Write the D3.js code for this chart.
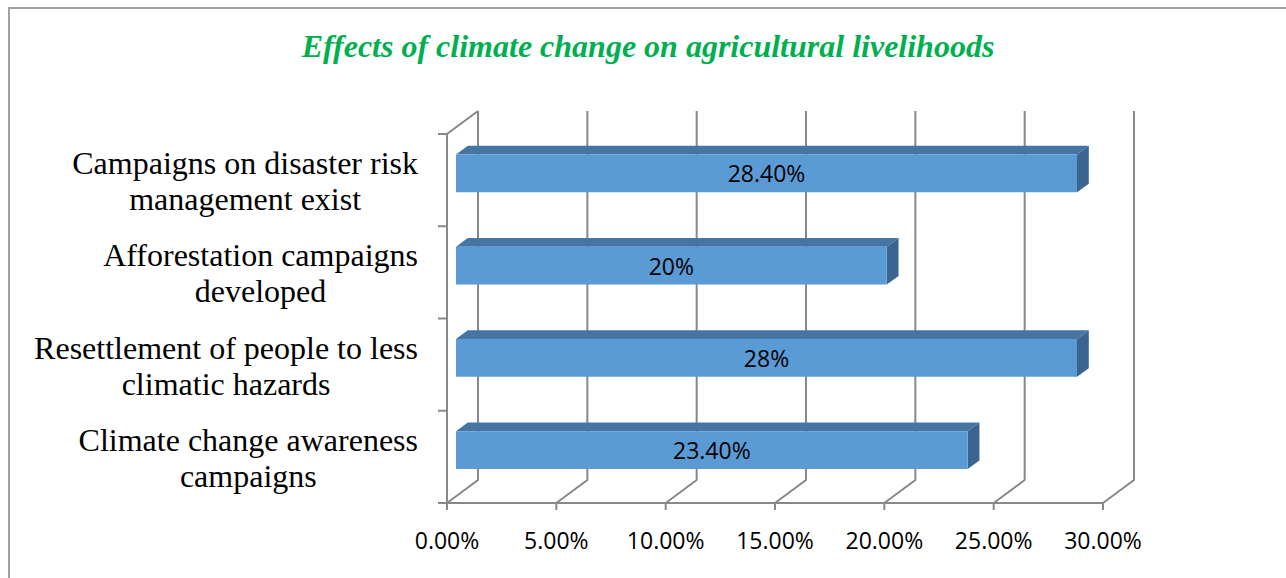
<!DOCTYPE html>
<html>
<head>
<meta charset="utf-8">
<script src="https://cdn.jsdelivr.net/npm/d3@7"></script>
<style>
	body { margin: 0; background: #fff; }
	svg { display: block; }
</style>
</head>
<body>
<script>
// chart data, top row first
var categories = [
	["Campaigns on disaster risk", "management exist"],
	["Afforestation campaigns", "developed"],
	["Resettlement of people to less", "climatic hazards"],
	["Climate change awareness", "campaigns"]
];
var values = [28.4, 19.7, 28.4, 23.4];
var valueLabels = ["28.40%", "20%", "28%", "23.40%"];
var ticks = [0, 5, 10, 15, 20, 25, 30];
var title = "Effects of climate change on agricultural livelihoods";

var width = 1286;
var height = 578;
// 3d depth of the plot box
var DX = 31;
var DY = -23;
var barFront = 0.29;
var barBack = 0.67;

var svg = d3.select("body")
			.append("svg")
			.attr("width", width)
			.attr("height", height);

// outer border (runs off the right/bottom of the picture)
svg.append("rect")
	.attr("x", 9)
	.attr("y", 8)
	.attr("width", width + 20)
	.attr("height", height + 20)
	.attr("fill", "none")
	.attr("stroke", "#a0a0a0")
	.attr("stroke-width", 2);

svg.append("text")
	.attr("x", 648)
	.attr("y", 57)
	.attr("text-anchor", "middle")
	.attr("font-family", "'Liberation Serif', 'Times New Roman', serif")
	.attr("font-size", "32px")
	.attr("font-weight", "bold")
	.attr("font-style", "italic")
	.attr("fill", "#00b050")
	.text(title);

var x = d3.scaleLinear()
		.domain([0, 30])
		.range([447, 1103]);

var y = d3.scaleBand()
		.domain(d3.range(categories.length))
		.range([134, 503])
		.paddingInner(0.59)
		.paddingOuter(0.295);

var yTop = 134, yBottom = 503;

function pt(xv, yv, d){
	return [xv + d * DX, yv + d * DY];
}
function poly(points){
	return points.map(function(p){ return p[0] + "," + p[1]; }).join(" ");
}

var grid = svg.append("g")
			.attr("fill", "none")
			.attr("stroke", "#888888")
			.attr("stroke-width", 2);

// back wall verticals + floor diagonals
ticks.forEach(function(t){
	var fx = x(t);
	var b0 = pt(fx, yBottom, 1);
	var b1 = pt(fx, yTop, 1);
	grid.append("polyline")
		.attr("points", poly([[fx, yBottom], b0, b1]));
	grid.append("line")
		.attr("x1", fx).attr("x2", fx)
		.attr("y1", yBottom).attr("y2", yBottom + 7);
});

// front floor edge
grid.append("line")
	.attr("x1", x(0)).attr("x2", x(30))
	.attr("y1", yBottom).attr("y2", yBottom);

// left side wall
var lt = pt(x(0), yTop, 1);
grid.append("polyline")
	.attr("points", poly([[x(0), yBottom], [x(0), yTop], lt]));

// category ticks on left axis
var bounds = d3.range(categories.length + 1).map(function(i){ return yTop + i * (yBottom - yTop) / categories.length; });
bounds.forEach(function(b){
	grid.append("line")
		.attr("x1", x(0) - 9).attr("x2", x(0))
		.attr("y1", b).attr("y2", b);
});

// bars
var bars = svg.selectAll("g.bar")
			.data(values)
			.enter()
			.append("g")
			.attr("class", "bar");

bars.append("polygon")
	.attr("fill", "#4675a4")
	.attr("points", function(d, i){
		var y0 = y(i);
		return poly([pt(x(0), y0, barFront), pt(x(d), y0, barFront), pt(x(d), y0, barBack), pt(x(0), y0, barBack)]);
	});

bars.append("polygon")
	.attr("fill", "#3b6590")
	.attr("points", function(d, i){
		var y0 = y(i), y1 = y(i) + y.bandwidth();
		return poly([pt(x(d), y0, barFront), pt(x(d), y0, barBack), pt(x(d), y1, barBack), pt(x(d), y1, barFront)]);
	});

bars.append("polygon")
	.attr("fill", "#5b9bd5")
	.attr("points", function(d, i){
		var y0 = y(i), y1 = y(i) + y.bandwidth();
		return poly([pt(x(0), y0, barFront), pt(x(d), y0, barFront), pt(x(d), y1, barFront), pt(x(0), y1, barFront)]);
	});

bars.append("text")
	.attr("x", function(d){ return (x(0) + x(d)) / 2 + barFront * DX; })
	.attr("y", function(d, i){ return y(i) + y.bandwidth() / 2 + barFront * DY + 9; })
	.attr("text-anchor", "middle")
	.attr("font-family", "'Open Sans', sans-serif")
	.attr("font-size", "23px")
	.attr("fill", "#000")
	.text(function(d, i){ return valueLabels[i]; });

// x tick labels
svg.selectAll("text.tick")
	.data(ticks)
	.enter()
	.append("text")
	.attr("class", "tick")
	.attr("x", function(d){ return x(d); })
	.attr("y", 549)
	.attr("text-anchor", "middle")
	.attr("font-family", "'Open Sans', sans-serif")
	.attr("font-size", "23px")
	.attr("fill", "#000")
	.text(function(d){ return d.toFixed(2) + "%"; });

// category labels, wrapped lines centred as a block right-aligned to the axis
categories.forEach(function(lines, i){
	var cy = yTop + (i + 0.5) * (yBottom - yTop) / categories.length;
	var g = svg.append("g");
	var texts = lines.map(function(line, j){
		return g.append("text")
			.attr("y", cy + (j - (lines.length - 1) / 2) * 36 + 12)
			.attr("text-anchor", "middle")
			.attr("font-family", "'Liberation Serif', 'Times New Roman', serif")
			.attr("font-size", "32px")
			.attr("fill", "#000")
			.text(line);
	});
	var maxW = d3.max(texts, function(t){ return t.node().getComputedTextLength(); });
	texts.forEach(function(t){ t.attr("x", 418 - maxW / 2); });
});
</script>
</body>
</html>
